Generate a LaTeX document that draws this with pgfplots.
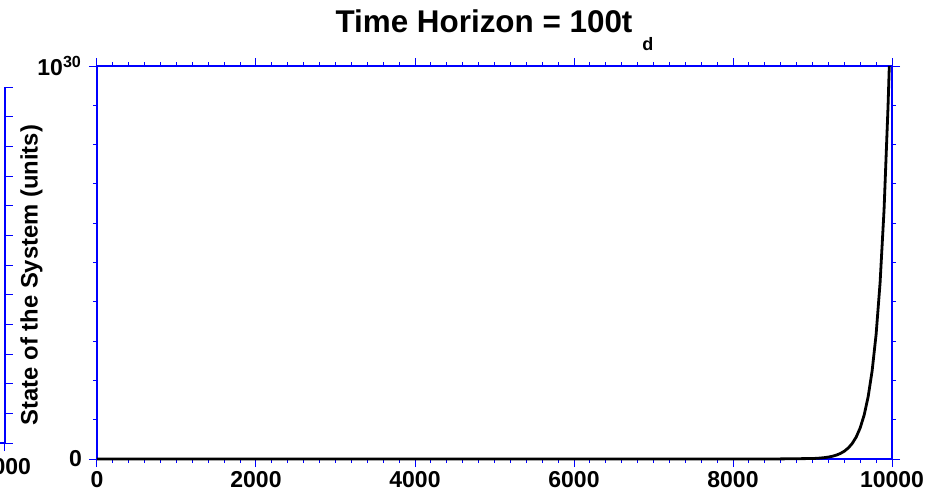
\documentclass[border=0pt]{standalone}
\usepackage{fontspec}
\setmainfont{Liberation Sans}
\usepackage{pgfplots}
\pgfplotsset{compat=1.18}

\newcommand\tl{\bfseries\fontsize{11.5}{13}\selectfont}

\begin{document}
\begin{tikzpicture}
\useasboundingbox (-48.5pt,-17.5pt) rectangle (423pt,229.5pt);
\clip (-48.5pt,-17.5pt) rectangle (423pt,229.5pt);

% neighbouring panel, only its right edge is in view
\begin{axis}[
  at={(-46pt,8pt)}, anchor=south east,
  scale only axis, width=300pt, height=178pt,
  xmin=0, xmax=10000, ymin=0, ymax=12,
  axis x line*=bottom, axis y line*=right,
  xtick={10000}, ytick={0,1,...,12}, yticklabels={},
  scaled x ticks=false,
  tick align=outside, major tick length=4pt,
  axis line style={blue, line width=0.9pt},
  every tick/.style={blue, line width=0.5pt},
  xticklabel style={font=\tl, xshift=-3pt},
  /pgf/number format/assume math mode=true,
  /pgf/number format/1000 sep={},
]
\addplot[draw=none] coordinates {(0,0)};
\end{axis}

\begin{axis}[
  at={(0,0)}, anchor=south west,
  scale only axis, width=397.5pt, height=196.5pt,
  xmin=0, xmax=10000, ymin=0, ymax=1e30,
  xtick={0,2000,...,10000}, minor x tick num=9,
  ytick={0,1e30}, yticklabels={0,10\textsuperscript{30}},
  minor y tick num=9,
  scaled x ticks=false, scaled y ticks=false,
  tick align=outside, major tick length=4pt, minor tick length=2pt,
  axis line style={blue, line width=0.9pt},
  every tick/.style={blue, line width=0.5pt},
  ticklabel style={font=\tl},
  xticklabel style={yshift=1.5pt},
  /pgf/number format/assume math mode=true,
  /pgf/number format/1000 sep={},
  title={Time Horizon = 100t\hspace{5pt}\raisebox{-9pt}{\fontsize{9}{9}\selectfont d}},
  every axis title/.style={font=\bfseries\fontsize{15.7}{17}\selectfont,
    at={(axis description cs:0.5,1)}, anchor=base, yshift=17pt},
  ylabel={State of the System (units)},
  ylabel style={font=\bfseries\fontsize{11.9}{13}\selectfont, at={(axis description cs:-0.068,0.468)}, anchor=south, inner sep=0pt},
  clip=false,
]
\addplot[black, line width=1.4pt] coordinates {
  (0,1) (1000,1.024e3) (2000,1.049e6) (3000,1.074e9) (4000,1.100e12)
  (5000,1.126e15) (6000,1.153e18) (7000,1.181e21) (8000,1.209e24)
  (8500,3.869e25) (9000,1.238e27) (9050,1.751e27) (9100,2.476e27)
  (9150,3.501e27) (9200,4.952e27) (9250,7.003e27) (9300,9.904e27)
  (9350,1.401e28) (9400,1.981e28) (9450,2.801e28) (9500,3.961e28)
  (9550,5.602e28) (9600,7.923e28) (9650,1.120e29) (9700,1.585e29)
  (9750,2.241e29) (9800,3.169e29) (9850,4.482e29) (9900,6.338e29)
  (9950,8.964e29) (9966,1.000e30)
};
\end{axis}
\end{tikzpicture}
\end{document}
